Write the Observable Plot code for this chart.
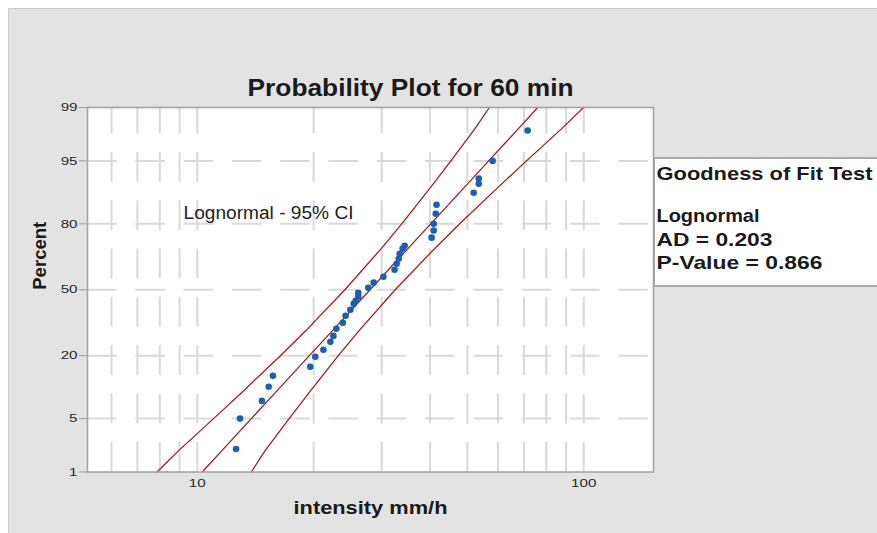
<!DOCTYPE html>
<html>
<head>
<meta charset="utf-8">
<script src="https://cdn.jsdelivr.net/npm/d3@7"></script>
<script src="https://cdn.jsdelivr.net/npm/@observablehq/plot@0.6"></script>
<style>
  html, body { margin: 0; padding: 0; background: #ffffff; }
  #wrap { position: relative; width: 877px; height: 533px; overflow: hidden; font-family: "Liberation Sans", Arial, sans-serif; }
  #panel { position: absolute; left: 8px; top: 8px; right: 0; bottom: 0; background: #e3e3e3; border-left: 1px solid #cdcdcd; border-top: 1px solid #cdcdcd; }
  #legendbox { position: absolute; left: 653px; top: 157px; width: 240px; height: 126px; background: #ffffff; border: 2px solid #ababab; }
  #chart { position: absolute; left: 0; top: 0; }
</style>
</head>
<body>
<div id="wrap">
  <div id="panel"></div>
  <div id="legendbox"></div>
  <div id="chart"></div>
</div>
<script>
// ---- Data ----
const intensity = [12.6, 12.9, 14.7, 15.3, 15.7, 19.6, 20.2, 21.2, 22.1, 22.5, 22.9, 23.8, 24.2, 24.9, 25.4, 25.7, 26.1, 26.1, 27.7, 28.6, 30.3, 32.4, 32.8, 33.2, 33.4, 34.0, 34.4, 40.4, 40.9, 40.9, 41.4, 41.6, 51.9, 53.5, 53.5, 58.1, 71.6];
const percent   = [2.1, 5.0, 7.8, 10.8, 13.6, 16.3, 19.6, 22.2, 25.3, 27.8, 30.9, 33.7, 37.0, 39.9, 42.9, 44.4, 46.5, 48.5, 51.0, 53.6, 56.6, 60.1, 63.0, 65.4, 67.7, 70.0, 71.3, 74.7, 77.5, 80.0, 83.4, 86.1, 89.2, 91.2, 92.2, 95.0, 97.9];

// fitted line and 95% CI bounds, read at these percent levels
const linePct  = [1, 2, 5, 10, 20, 30, 50, 70, 80, 90, 95, 98, 99];
const fitX     = [10.30, 11.58, 13.80, 16.14, 19.50, 22.35, 27.99, 35.07, 40.18, 48.55, 56.75, 67.66, 76.03];
const ciLeftX  = [7.87, 8.95, 11.02, 13.23, 16.41, 19.07, 24.10, 29.92, 33.81, 39.78, 45.31, 52.25, 57.0];
const ciRightX = [13.80, 14.98, 17.29, 19.70, 23.17, 26.19, 32.51, 41.11, 47.75, 59.23, 71.09, 87.57, 99.9];

const yTickPct   = [1, 5, 20, 50, 80, 95, 99];
const yGridPct   = [5, 20, 50, 80, 95];
const xTicks     = [10, 100];
const xGrid      = [6, 7, 8, 9, 10, 20, 30, 40, 50, 60, 70, 80, 90, 100];

const titleText  = "Probability Plot for 60 min";
const xLabel     = "intensity mm/h";
const yLabel     = "Percent";
const noteText   = "Lognormal - 95% CI";
const legendLines = ["Goodness of Fit Test", "Lognormal", "AD = 0.203", "P-Value = 0.866"];

// ---- normal quantile (probability scale transform) ----
function probit(p) {
  const a=[-3.969683028665376e+01,2.209460984245205e+02,-2.759285104469687e+02,1.383577518672690e+02,-3.066479806614716e+01,2.506628277459239e+00];
  const b=[-5.447609879822406e+01,1.615858368580409e+02,-1.556989798598866e+02,6.680131188771972e+01,-1.328068155288572e+01];
  const c=[-7.784894002430293e-03,-3.223964580411365e-01,-2.400758277161838e+00,-2.549732539343734e+00,4.374664141464968e+00,2.938163982698783e+00];
  const d=[7.784695709041462e-03,3.224671290700398e-01,2.445134137142996e+00,3.754408661907416e+00];
  const pl = 0.02425;
  if (p < pl) { const q=Math.sqrt(-2*Math.log(p)); return (((((c[0]*q+c[1])*q+c[2])*q+c[3])*q+c[4])*q+c[5])/((((d[0]*q+d[1])*q+d[2])*q+d[3])*q+1); }
  if (p > 1-pl) { const q=Math.sqrt(-2*Math.log(1-p)); return -(((((c[0]*q+c[1])*q+c[2])*q+c[3])*q+c[4])*q+c[5])/((((d[0]*q+d[1])*q+d[2])*q+d[3])*q+1); }
  const q=p-0.5, r=q*q;
  return (((((a[0]*r+a[1])*r+a[2])*r+a[3])*r+a[4])*r+a[5])*q/(((((b[0]*r+b[1])*r+b[2])*r+b[3])*r+b[4])*r+1);
}
const z = pct => probit(pct / 100);

const points = intensity.map((v, i) => ({x: v, y: z(percent[i])}));
const mkLine = xs => linePct.map((p, i) => ({x: xs[i], y: z(p)}));
const fitLine = mkLine(fitX), leftLine = mkLine(ciLeftX), rightLine = mkLine(ciRightX);

const yTickZ = yTickPct.map(z);
const yTickMap = new Map(yTickZ.map((v, i) => [v, String(yTickPct[i])]));

const RED = "#a01c1c", BLUE = "#1b5fb3", GRID = "#d9d9d9", INK = "#1a1a1a";
const FONT = "Liberation Sans, Arial, sans-serif";

const svg = Plot.plot({
  width: 877, height: 533,
  marginLeft: 87, marginRight: 224, marginTop: 107, marginBottom: 61.5,
  style: {background: "transparent", fontFamily: FONT, overflow: "visible"},
  x: {type: "log", domain: [5.2, 151.5]},
  y: {type: "linear", domain: [z(1), z(99)]},
  marks: [
    Plot.frame({fill: "white", stroke: null}),
    Plot.gridX({ticks: xGrid, stroke: GRID, strokeOpacity: 1, strokeWidth: 2, strokeDasharray: "30,18.3", strokeDashoffset: 3.4}),
    Plot.gridY({ticks: yGridPct.map(z), stroke: GRID, strokeOpacity: 1, strokeWidth: 2, strokeDasharray: "29.5,18.8"}),
    Plot.line(leftLine, {x: "x", y: "y", stroke: RED, strokeWidth: 1.3}),
    Plot.line(rightLine, {x: "x", y: "y", stroke: RED, strokeWidth: 1.3}),
    Plot.line(fitLine, {x: "x", y: "y", stroke: RED, strokeWidth: 1.3}),
    Plot.dot(points, {x: "x", y: "y", r: 3.3, symbol: "circle", fill: BLUE, stroke: null}),
    Plot.frame({stroke: "#a3a3a3", strokeWidth: 1.6}),
    Plot.axisY({ticks: yTickZ, tickFormat: v => yTickMap.get(v), tickSize: 8, tickPadding: 2, label: null, fontSize: 11.5, stroke: "#9a9a9a", fill: "#2a2a2a"}),
    Plot.axisX({ticks: xTicks, tickFormat: d => String(d), tickSize: 0, tickPadding: 7, label: null, fontSize: 11.5, fill: "#2a2a2a"}),
    Plot.text([titleText], {frameAnchor: "top", dx: 40, dy: -12, lineAnchor: "bottom", fontSize: 24, fontWeight: "bold", fill: INK}),
    Plot.text([noteText], {frameAnchor: "top-left", textAnchor: "start", dx: 96, dy: 111.3, lineAnchor: "bottom", fontSize: 18, fill: "#222"}),
    Plot.text([yLabel], {frameAnchor: "left", dx: -47.5, rotate: -90, lineAnchor: "middle", fontSize: 18, fontWeight: "bold", fill: INK}),
    Plot.text([xLabel], {frameAnchor: "bottom", dy: 42, lineAnchor: "bottom", fontSize: 18, fontWeight: "bold", fill: INK}),
    Plot.text([legendLines[0]], {frameAnchor: "top-right", textAnchor: "start", dx: 3, dy: 72.3, lineAnchor: "bottom", fontSize: 19, fontWeight: "bold", fill: INK}),
    Plot.text([legendLines[1]], {frameAnchor: "top-right", textAnchor: "start", dx: 3, dy: 114.7, lineAnchor: "bottom", fontSize: 19, fontWeight: "bold", fill: INK}),
    Plot.text([legendLines[2]], {frameAnchor: "top-right", textAnchor: "start", dx: 3, dy: 138, lineAnchor: "bottom", fontSize: 19, fontWeight: "bold", fill: INK}),
    Plot.text([legendLines[3]], {frameAnchor: "top-right", textAnchor: "start", dx: 3, dy: 161.3, lineAnchor: "bottom", fontSize: 19, fontWeight: "bold", fill: INK})
  ]
});

document.getElementById("chart").appendChild(svg);

// fit text widths to the reference (attributes only, positions untouched)
const widths = new Map([
  [titleText, 326], [noteText, 170], [yLabel, 68], [xLabel, 154],
  [legendLines[0], 216], [legendLines[1], 103], [legendLines[2], 116], [legendLines[3], 166]
]);
svg.querySelectorAll("text").forEach(t => {
  const s = t.textContent;
  if (widths.has(s) && t.querySelectorAll("tspan").length === 0) {
    t.setAttribute("textLength", widths.get(s));
    t.setAttribute("lengthAdjust", "spacingAndGlyphs");
  }
});
// tick labels in the reference are drawn wider than the font's natural width
svg.querySelectorAll('g[aria-label$="tick label"] text').forEach(t => {
  const w = t.getComputedTextLength();
  if (w > 0) {
    t.setAttribute("textLength", (w * 1.32).toFixed(2));
    t.setAttribute("lengthAdjust", "spacingAndGlyphs");
  }
});
</script>
</body>
</html>
